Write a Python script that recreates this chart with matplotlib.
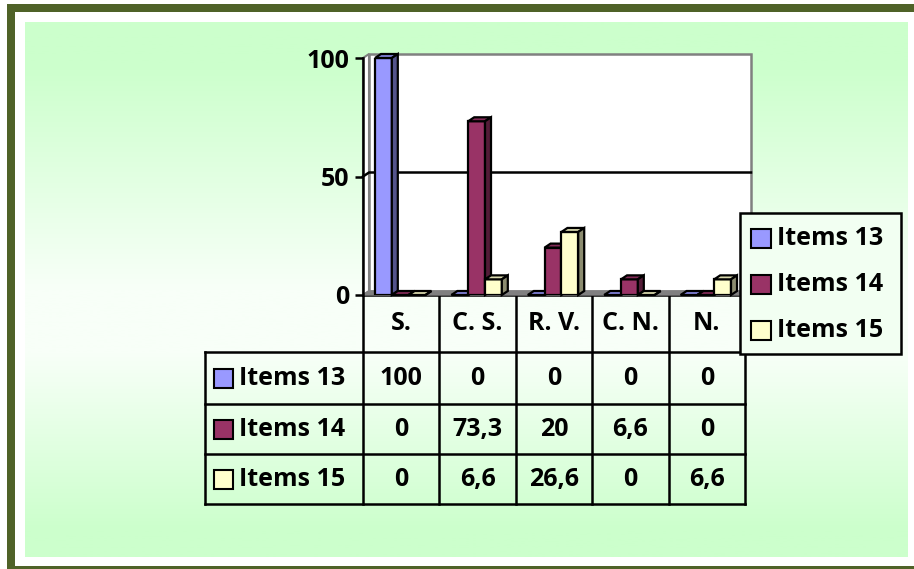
import numpy as np
import matplotlib
matplotlib.use("Agg")
from matplotlib import pyplot as plt
from matplotlib.patches import Rectangle, Polygon
from matplotlib import colors as mcolors

# data
categorias = ['S.', 'C. S.', 'R. V.', 'C. N.', 'N.']
series = ['Items 13', 'Items 14', 'Items 15']
items13 = [100, 0, 0, 0, 0]
items14 = [0, 73.3, 20, 6.6, 0]
items15 = [0, 6.6, 26.6, 0, 6.6]
yticks = [0, 50, 100]

valores = [items13, items14, items15]
cores = ['#9999FF', '#993366', '#FFFFCC']
oliva = '#4F6228'

plt.rcParams['font.family'] = ['Open Sans', 'DejaVu Sans']
plt.rcParams['font.weight'] = 'bold'
FS = 18

W, H = 914, 569
fig = plt.figure(figsize=(W / 100, H / 100), dpi=100)

# camada de fundo em pixels
ov = fig.add_axes([0, 0, 1, 1])
ov.set_xlim(0, W)
ov.set_ylim(H, 0)
ov.axis('off')

# moldura
ov.add_patch(Rectangle((7, 4), W - 7, 8, color=oliva, lw=0))
ov.add_patch(Rectangle((7, 4), 8, H - 4, color=oliva, lw=0))
ov.add_patch(Rectangle((7, 566), W - 7, 3, color=oliva, lw=0))

# gradiente verde
t = np.linspace(0, 1, 300)
k = np.interp(t, [0, 0.08, 0.5, 0.62, 0.95, 1], [0, 0, 1, 1, 0, 0])
verde = np.array(mcolors.to_rgb('#CCFFCC'))
claro = np.array(mcolors.to_rgb('#F8FFF8'))
grad = verde[None, :] * (1 - k[:, None]) + claro[None, :] * k[:, None]
ov.imshow(grad[:, None, :], extent=(25, 908, 557, 22), aspect='auto', zorder=0)


def escurecer(c, f):
    r, g, b = mcolors.to_rgb(c)
    return (r * f, g * f, b * f)


# eixo do grafico
x0p, x1p, y0p, y1p = 363, 745, 295, 58
ax = fig.add_axes([x0p / W, 1 - y0p / H, (x1p - x0p) / W, (y0p - y1p) / H])
ax.set_facecolor('none')
n = len(categorias)
ax.set_xlim(0, n)
ax.set_ylim(0, 100)
dx = 6 / ((x1p - x0p) / n)
dy = 4 / ((y0p - y1p) / 100)

for s in ['top', 'right', 'bottom']:
    ax.spines[s].set_visible(False)
ax.spines['left'].set_linewidth(1.8)
ax.spines['left'].set_zorder(10)
ax.set_xticks([])
ax.set_yticks(yticks)
ax.tick_params(axis='y', direction='out', length=6, width=1.8, pad=4, labelsize=FS)
for lb in ax.get_yticklabels():
    lb.set_fontweight('bold')

# paredes e chao
ax.add_patch(Rectangle((dx, dy), n, 100, facecolor='white', edgecolor='#808080', lw=1.8, zorder=1, clip_on=False))
ax.add_patch(Polygon([(0, 0), (0, 100), (dx, 100 + dy), (dx, dy)], closed=True,
                     facecolor='white', edgecolor='#808080', lw=1.5, zorder=1, clip_on=False))
ax.add_patch(Polygon([(0, 0), (n, 0), (n + dx, dy), (dx, dy)], closed=True,
                     facecolor='#808080', edgecolor='#808080', lw=1, zorder=1.5, clip_on=False))
for v in yticks[1:-1]:
    ax.plot([0, dx, n + dx], [v, v + dy, v + dy], color='black', lw=1.8, zorder=2, clip_on=False)

# barras 3D
w = 0.22
off = 0.157
z = 3
for j in range(n):
    for i, vals in enumerate(valores):
        h = vals[j]
        xb = j + off + i * w
        ax.bar(xb, h, width=w, align='edge', color=cores[i], edgecolor='black', lw=1.6, zorder=z)
        topo = [(xb, h), (xb + w, h), (xb + w + dx, h + dy), (xb + dx, h + dy)]
        lado = [(xb + w, 0), (xb + w, h), (xb + w + dx, h + dy), (xb + w + dx, dy)]
        ax.add_patch(Polygon(topo, closed=True, facecolor=escurecer(cores[i], 0.85),
                             edgecolor='black', lw=1.6, zorder=z, clip_on=False))
        ax.add_patch(Polygon(lado, closed=True, facecolor=escurecer(cores[i], 0.55),
                             edgecolor='black', lw=1.6, zorder=z, clip_on=False))
        z += 0.01

# tabela de dados
cols = np.linspace(x0p, x1p, n + 1)
linhas = [352, 404, 454, 504]
lw_t = 1.8
ov.plot([x0p, x1p], [y0p, y0p], color='black', lw=lw_t, zorder=5)
for x in cols:
    ov.plot([x, x], [y0p, linhas[-1]], color='black', lw=lw_t, zorder=5)
ov.plot([205, 205], [linhas[0], linhas[-1]], color='black', lw=lw_t, zorder=5)
for y in linhas:
    ov.plot([205, x1p], [y, y], color='black', lw=lw_t, zorder=5)

for j, c in enumerate(categorias):
    ov.text((cols[j] + cols[j + 1]) / 2, (y0p + linhas[0]) / 2, c, ha='center', va='center',
            fontsize=FS, fontweight='bold', zorder=6)


def rotulo(v):
    return f"{v:g}".replace('.', ',')


for i, nome in enumerate(series):
    yc = (linhas[i] + linhas[i + 1]) / 2
    ov.add_patch(Rectangle((214, yc - 9.5), 19, 19, facecolor=cores[i], edgecolor='black', lw=1.5, zorder=6))
    ov.text(239, yc, nome, ha='left', va='center', fontsize=FS, fontweight='bold', zorder=6)
    for j in range(n):
        ov.text((cols[j] + cols[j + 1]) / 2, yc, rotulo(valores[i][j]), ha='center', va='center',
                fontsize=FS, fontweight='bold', zorder=6)

# legenda
leg = fig.add_axes([0, 0, 1, 1])
leg.set_xlim(0, W)
leg.set_ylim(H, 0)
leg.axis('off')
leg.add_patch(Rectangle((740, 213), 161, 141, facecolor='#F2FFF2', edgecolor='black', lw=lw_t, zorder=1))
for i, nome in enumerate(series):
    yc = 238 + 46 * i
    leg.add_patch(Rectangle((751, yc - 9.5), 20, 19, facecolor=cores[i], edgecolor='black', lw=1.5, zorder=2))
    leg.text(777, yc, nome, ha='left', va='center', fontsize=FS, fontweight='bold', zorder=2)

fig.savefig('out.png', dpi=100)
